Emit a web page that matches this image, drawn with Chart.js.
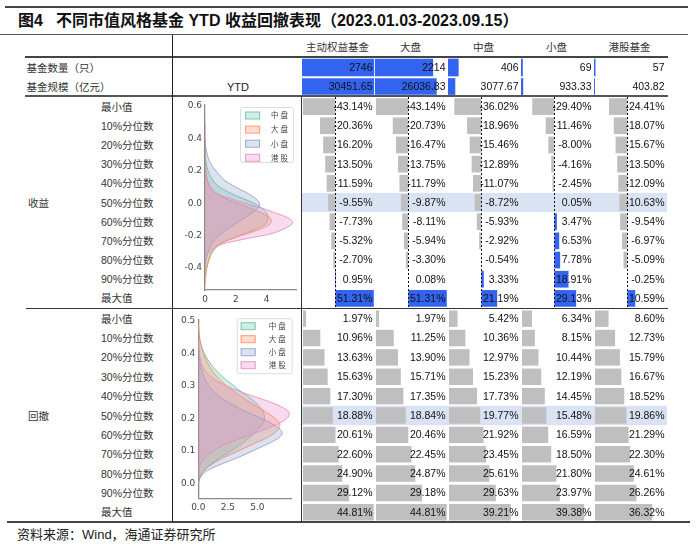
<!DOCTYPE html>
<html><head><meta charset="utf-8">
<script src="https://cdn.jsdelivr.net/npm/chart.js@4"></script>
<style>
body{margin:0;background:#fff;width:700px;height:549px;position:relative;overflow:hidden;font-family:"Liberation Sans","Noto Sans CJK SC",sans-serif;}
.ln{position:absolute;background:#333;}
.t{position:absolute;white-space:nowrap;color:#333;font-size:10.5px;line-height:1;transform:translateY(-50%);}
.c{transform:translate(-50%,-50%);}
canvas{position:absolute;}
</style></head><body>
<script>
// ---------------- DATA ----------------
const columns = ['主动权益基金','大盘','中盘','小盘','港股基金'];
const rowLabels = ['最小值','10%分位数','20%分位数','30%分位数','40%分位数','50%分位数','60%分位数','70%分位数','80%分位数','90%分位数','最大值'];
const sectionLabels = ['收益','回撤'];
const fundCount = [2746, 2214, 406, 69, 57];
const fundSize = [30451.65, 26036.83, 3077.67, 933.33, 403.82];

const retActive = [-43.14,-20.36,-16.20,-13.50,-11.59,-9.55,-7.73,-5.32,-2.70,0.95,51.31];
const retLarge  = [-43.14,-20.73,-16.47,-13.75,-11.79,-9.87,-8.11,-5.94,-3.30,0.08,51.31];
const retMid    = [-36.02,-18.96,-15.46,-12.89,-11.07,-8.72,-5.93,-2.92,-0.54,3.33,21.19];
const retSmall  = [-29.40,-11.46,-8.00,-4.16,-2.45,0.05,3.47,6.53,7.78,18.91,29.13];
const retHK     = [-24.41,-18.07,-15.67,-13.50,-12.09,-10.63,-9.54,-6.97,-5.09,-0.25,10.59];

const ddActive = [1.97,10.96,13.63,15.63,17.30,18.88,20.61,22.60,24.90,29.12,44.81];
const ddLarge  = [1.97,11.25,13.90,15.71,17.35,18.84,20.46,22.45,24.87,29.18,44.81];
const ddMid    = [5.42,10.36,12.97,15.23,17.73,19.77,21.92,23.45,25.61,29.63,39.21];
const ddSmall  = [6.34,8.15,10.44,12.19,14.45,15.48,16.59,18.50,21.80,23.97,39.38];
const ddHK     = [8.60,12.73,15.79,16.67,18.52,19.86,21.29,22.30,24.61,26.26,36.32];

const kdeNames = ['中盘','大盘','小盘','港股'];
// density curves: [value, density]
const kdeRetMid   = [[-0.45,0],[-0.40,0.1],[-0.35,0.25],[-0.30,0.5],[-0.25,1.0],[-0.20,2.2],[-0.16,3.3],[-0.12,4.0],[-0.08,4.1],[-0.04,3.8],[0.0,3.2],[0.04,2.2],[0.08,1.3],[0.12,0.7],[0.16,0.4],[0.20,0.2],[0.25,0.08],[0.30,0.02],[0.35,0]];
const kdeRetLarge = [[-0.50,0],[-0.45,0.05],[-0.40,0.12],[-0.35,0.25],[-0.30,0.45],[-0.25,1.0],[-0.21,2.0],[-0.17,3.3],[-0.13,4.2],[-0.10,4.3],[-0.07,3.9],[-0.04,3.2],[0.0,2.1],[0.04,1.1],[0.08,0.5],[0.12,0.25],[0.16,0.12],[0.20,0.06],[0.30,0.02],[0.40,0.005],[0.50,0]];
const kdeRetSmall = [[-0.40,0],[-0.35,0.06],[-0.30,0.2],[-0.25,0.45],[-0.20,0.9],[-0.15,1.6],[-0.10,2.4],[-0.05,3.2],[-0.01,3.55],[0.02,3.4],[0.06,2.8],[0.10,2.0],[0.14,1.3],[0.18,0.9],[0.22,0.55],[0.26,0.3],[0.30,0.15],[0.35,0.05],[0.40,0]];
const kdeRetHK    = [[-0.38,0],[-0.33,0.1],[-0.29,0.4],[-0.25,1.2],[-0.22,2.6],[-0.19,4.2],[-0.15,5.3],[-0.12,5.7],[-0.09,5.4],[-0.06,4.6],[-0.03,3.7],[0.0,2.6],[0.03,1.6],[0.06,0.8],[0.10,0.35],[0.14,0.12],[0.18,0.03],[0.22,0]];

const kdeDdMid   = [[0,0],[0.02,0.15],[0.04,0.5],[0.06,1.1],[0.08,1.9],[0.10,2.8],[0.12,3.6],[0.14,4.3],[0.16,4.9],[0.18,5.4],[0.20,5.6],[0.22,5.5],[0.24,5.1],[0.26,4.5],[0.28,3.7],[0.30,3.0],[0.32,2.3],[0.34,1.7],[0.37,1.0],[0.40,0.5],[0.43,0.2],[0.46,0.05],[0.48,0]];
const kdeDdLarge = [[0,0],[0.02,0.15],[0.04,0.5],[0.06,1.2],[0.08,2.2],[0.10,3.4],[0.12,4.6],[0.14,5.8],[0.16,6.6],[0.18,6.9],[0.20,6.5],[0.22,5.7],[0.24,4.8],[0.26,3.9],[0.28,3.1],[0.30,2.4],[0.32,1.8],[0.34,1.3],[0.37,0.8],[0.40,0.45],[0.43,0.2],[0.46,0.07],[0.49,0]];
const kdeDdSmall = [[0,0],[0.02,0.2],[0.04,0.8],[0.06,2.0],[0.08,3.4],[0.10,4.6],[0.12,5.8],[0.14,6.8],[0.155,7.1],[0.17,6.8],[0.19,5.9],[0.21,4.7],[0.23,3.5],[0.25,2.5],[0.27,1.7],[0.29,1.1],[0.31,0.7],[0.34,0.35],[0.37,0.15],[0.40,0.06],[0.44,0]];
const kdeDdHK    = [[0.04,0],[0.06,0.2],[0.08,0.6],[0.10,1.3],[0.12,2.3],[0.14,3.7],[0.16,5.2],[0.18,6.6],[0.20,7.5],[0.215,7.7],[0.23,7.3],[0.25,6.1],[0.27,4.5],[0.29,3.0],[0.31,1.8],[0.33,1.0],[0.35,0.5],[0.38,0.2],[0.41,0.05],[0.44,0]];

const retTicksY = [-0.4,-0.2,0,0.2,0.4,0.6];
const retTicksX = [0,2,4];
const ddTicksY = [0,0.1,0.2,0.3,0.4,0.5];
const ddTicksX = [0,2.5,5];

// ---------------- LAYOUT HELPERS ----------------
function line(x1,x2,y,th,col){const d=document.createElement('div');d.className='ln';Object.assign(d.style,{left:x1+'px',top:(y-th/2)+'px',width:(x2-x1)+'px',height:th+'px',background:col||'#333'});document.body.appendChild(d);}
function vline(x,y1,y2,th,col){const d=document.createElement('div');d.className='ln';Object.assign(d.style,{left:(x-th/2)+'px',top:y1+'px',width:th+'px',height:(y2-y1)+'px',background:col||'#222'});document.body.appendChild(d);}
function text(s,x,y,css,center){const d=document.createElement('div');d.className='t'+(center?' c':'');d.textContent=s;d.style.left=x+'px';d.style.top=y+'px';if(css)Object.assign(d.style,css);document.body.appendChild(d);return d;}
function canvas(l,t,w,h){const c=document.createElement('canvas');c.width=w;c.height=h;Object.assign(c.style,{left:l+'px',top:t+'px',width:w+'px',height:h+'px'});document.body.appendChild(c);return c;}

// title & rules
line(5,688,6.5,2,'#444');
line(0,688,34.5,1,'#555');
const tt = text('图4',18,21,{fontSize:'16px',fontWeight:'bold',color:'#111'});
text('不同市值风格基金 YTD 收益回撤表现（2023.01.03-2023.09.15）',56,21,{fontSize:'16px',fontWeight:'bold',color:'#111'});
line(25,668,57,1.5,'#444');
line(25,668,95.5,2,'#555');
line(26,668,308.5,1,'#333');
line(7,690,522,2,'#444');
vline(172.5,34.5,522,1.5,'#222');
vline(301.5,96,522,1,'#333');

const colLefts = [302,375,448,521,594];
const colW = 73;
columns.forEach((c,i)=>text(c,colLefts[i]+colW/2-1,47,{color:'#333'},true));
text('基金数量（只）',26.5,67.5);
text('基金规模（亿元）',26.5,86.5);
text('YTD',238,87,{fontSize:'11px',color:'#222'},true);

const RET_TOP=97, RET_H=211, DD_TOP=309, DD_H=213;
rowLabels.forEach((r,i)=>{
  text(r,101,RET_TOP+(i+0.5)*RET_H/11);
  text(r,101,DD_TOP+(i+0.5)*DD_H/11);
});
text(sectionLabels[0],28,RET_TOP+5.5*RET_H/11);
text(sectionLabels[1],28,DD_TOP+5.5*DD_H/11);
text('资料来源：Wind，海通证券研究所',17,534,{fontSize:'13px',color:'#222'});

// ---------------- DATA-BAR COLUMNS ----------------
const GRAY='#bfbfbf', BLUE='#3264f0', BAND='#dae3f3';
function barCol(cv, labels, datasets, scales, cfg){
  new Chart(cv,{
    type:'bar',
    data:{labels, datasets},
    options:{responsive:false,animation:false,indexAxis:'y',
      layout:{padding:0,autoPadding:false},
      scales:Object.assign({y:{type:'category',display:false,offset:true}},scales),
      plugins:{legend:{display:false},tooltip:{enabled:false}}},
    plugins:[{id:'cells',
      beforeDatasetsDraw(ch){
        if(cfg.band==null) return;
        const ctx=ch.ctx, rh=ch.height/labels.length, yc=ch.scales.y.getPixelForValue(cfg.band);
        ctx.save();ctx.fillStyle=BAND;ctx.fillRect(0,yc-rh/2,ch.width,rh);ctx.restore();
      },
      afterDatasetsDraw(ch){
        const ctx=ch.ctx; ctx.save();
        if(cfg.zeroLine){
          const x=Math.round(ch.scales.x.getPixelForValue(0))+0.5;
          ctx.strokeStyle='#111';ctx.lineWidth=1;ctx.setLineDash([2,2]);
          ctx.beginPath();ctx.moveTo(x,0);ctx.lineTo(x,ch.height);ctx.stroke();ctx.setLineDash([]);
        }
        ctx.fillStyle='#111';ctx.font='10.5px "Liberation Sans", Arial, sans-serif';
        ctx.textAlign='right';ctx.textBaseline='middle';
        cfg.texts.forEach((s,i)=>ctx.fillText(s,ch.width-2.5,ch.scales.y.getPixelForValue(i)+0.5));
        ctx.restore();
      }}]
  });
}
const retCols=[retActive,retLarge,retMid,retSmall,retHK];
const ddCols=[ddActive,ddLarge,ddMid,ddSmall,ddHK];
const cntMax=Math.max(...fundCount), sizeMax=Math.max(...fundSize);
columns.forEach((c,i)=>{
  // header rows: count & size
  barCol(canvas(colLefts[i],58,colW,38),['数量','规模'],[
      {data:[fundCount[i],null],xAxisID:'x',backgroundColor:BLUE,barPercentage:0.93,categoryPercentage:1,grouped:false},
      {data:[null,fundSize[i]],xAxisID:'x2',backgroundColor:BLUE,barPercentage:0.88,categoryPercentage:1,grouped:false}],
    {x:{type:'linear',display:false,min:0,max:cntMax*1.012},x2:{type:'linear',display:false,axis:'x',min:0,max:sizeMax*1.012}},
    {texts:[String(fundCount[i]),fundSize[i].toFixed(2)]});
  // returns
  const rv=retCols[i];
  barCol(canvas(colLefts[i],RET_TOP,colW,RET_H),rowLabels,[
      {data:rv,backgroundColor:rv.map(v=>v<0?GRAY:BLUE),barPercentage:0.87,categoryPercentage:1}],
    {x:{type:'linear',display:false,min:-44.4,max:52.9}},
    {band:5,zeroLine:true,texts:rv.map(v=>v.toFixed(2)+'%')});
  // drawdown
  const dv=ddCols[i];
  barCol(canvas(colLefts[i],DD_TOP,colW,DD_H),rowLabels,[
      {data:dv,backgroundColor:GRAY,barPercentage:0.85,categoryPercentage:1}],
    {x:{type:'linear',display:false,min:-0.63,max:45.6}},
    {band:5,zeroLine:false,texts:dv.map(v=>v.toFixed(2)+'%')});
});

// ---------------- DENSITY PLOTS ----------------
const kdeColors=[[102,194,165],[252,141,98],[141,160,203],[231,138,195]];
function kde(cv, curves, cfg){
  const datasets=curves.map((pts,i)=>{const [r,g,b]=kdeColors[i];return {
    label:kdeNames[i], data:pts.map(p=>({x:p[1],y:p[0]})),
    borderColor:`rgba(${r},${g},${b},0.85)`, backgroundColor:`rgba(${r},${g},${b},0.3)`,
    borderWidth:1, fill:'origin', pointRadius:0, cubicInterpolationMode:'monotone', order:4-i};});
  const tickFont={family:'"DejaVu Sans", sans-serif',size:9};
  new Chart(cv,{type:'line',data:{datasets},
    options:{responsive:false,animation:false,indexAxis:'y',
      layout:{padding:cfg.pad,autoPadding:false},
      scales:{
        x:{type:'linear',bounds:'data',min:0,max:cfg.xmax,
          afterBuildTicks:s=>{s.ticks=cfg.xt.map(v=>({value:v}));},
          afterFit:s=>{s.height=cfg.xh;s.paddingLeft=0;s.paddingRight=0;},
          grid:{display:false,drawTicks:false},border:{display:true,color:'#8a8a8a',width:1.3},
          ticks:{padding:4,color:'#444',font:tickFont,maxRotation:0,callback:v=>cfg.xf(v)}},
        y:{type:'linear',bounds:'data',min:cfg.ymin,max:cfg.ymax,
          afterBuildTicks:s=>{s.ticks=cfg.yt.map(v=>({value:v}));},
          afterFit:s=>{s.width=cfg.yw;s.paddingTop=0;s.paddingBottom=0;},
          grid:{display:false,drawTicks:false},border:{display:true,color:'#8a8a8a',width:1.3},
          ticks:{padding:3,color:'#444',font:tickFont,callback:v=>cfg.yf(v)}}},
      plugins:{legend:{display:false},tooltip:{enabled:false}}},
    plugins:[{id:'kdeLegend',afterDraw(ch){
      const a=ch.chartArea,ctx=ch.ctx;const L=cfg.leg;
      const x0=a.right+L.dx-L.w, y0=a.top+L.dy;
      ctx.save();
      ctx.fillStyle='rgba(255,255,255,0.8)';ctx.strokeStyle='#dcdcdc';ctx.lineWidth=1;
      ctx.beginPath();ctx.roundRect(x0+0.5,y0+0.5,L.w,L.h,2);ctx.fill();ctx.stroke();
      ch.data.datasets.forEach((d,i)=>{
        const yc=y0+L.first+i*L.step;
        ctx.fillStyle=d.backgroundColor;ctx.strokeStyle=d.borderColor;
        ctx.fillRect(x0+L.px,yc-3.5,15,7);ctx.strokeRect(x0+L.px+0.5,yc-3.5,14,7);
        ctx.fillStyle='#444';ctx.font='7.5px "Noto Sans CJK SC", sans-serif';
        ctx.letterSpacing='2px';ctx.textBaseline='middle';ctx.textAlign='left';
        ctx.fillText(d.label,x0+L.tx,yc);ctx.letterSpacing='0px';
      });
      ctx.restore();}}]
  });
}
kde(canvas(174,97,126,210),[kdeRetMid,kdeRetLarge,kdeRetSmall,kdeRetHK],{
  pad:{left:0,right:3.4,top:7.5,bottom:0},xmax:5.95,ymin:-0.535,ymax:0.61,xh:17,yw:31,
  xt:retTicksX,yt:retTicksY,xf:v=>String(v),yf:v=>v.toFixed(1),
  leg:{dx:-3.5,dy:2.5,w:53,h:55,first:8.5,step:14.1,px:5,tx:31}});
kde(canvas(174,309,126,213),[kdeDdMid,kdeDdLarge,kdeDdSmall,kdeDdHK],{
  pad:{left:0,right:8.3,top:10.2,bottom:0},xmax:7.9,ymin:-0.046,ymax:0.505,xh:23.7,yw:24.3,
  xt:ddTicksX,yt:ddTicksY,xf:v=>v.toFixed(1),yf:v=>v.toFixed(1),
  leg:{dx:0,dy:-1,w:55,h:55,first:8,step:13,px:4,tx:32}});
</script>
</body></html>
